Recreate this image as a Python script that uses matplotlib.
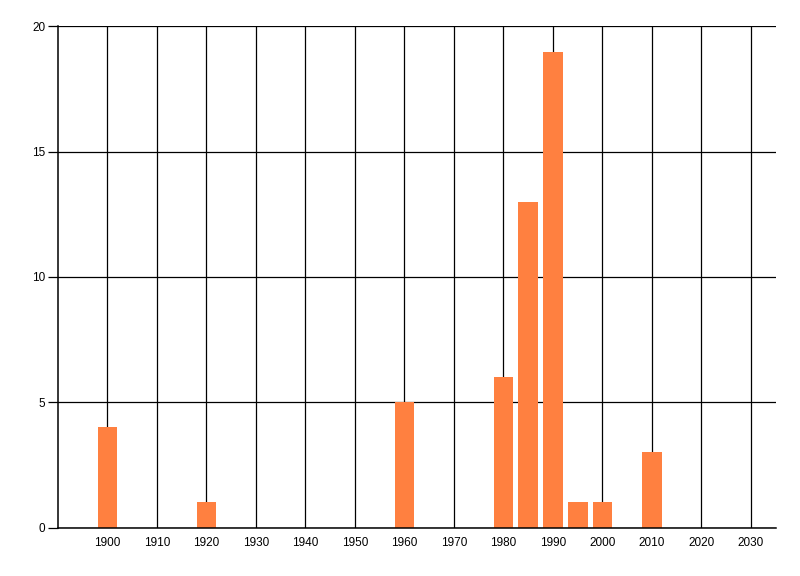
import matplotlib
matplotlib.use('Agg')
import matplotlib.pyplot as plt

# bar data
years = [1900, 1920, 1960, 1980, 1985, 1990, 1995, 2000, 2010]
counts = [4, 1, 5, 6, 13, 19, 1, 1, 3]
xticks = list(range(1900, 2031, 10))
yticks = [0, 5, 10, 15, 20]

plt.rcParams['font.family'] = ['Liberation Sans', 'DejaVu Sans']

fig = plt.figure(figsize=(8, 5.76), dpi=100)
ax = fig.add_axes([0.0725, 0.0842, 0.8971, 0.8698])

ax.bar(years, counts, width=4, color='#FF8040', zorder=3)

ax.set_xlim(1890, 2035)
ax.set_ylim(0, 20)
ax.set_xticks(xticks)
ax.set_yticks(yticks)
ax.grid(True, color='black', linewidth=0.9, zorder=1)
ax.set_axisbelow(True)

for s in ['top', 'right']:
    ax.spines[s].set_visible(False)
for s in ['left', 'bottom']:
    ax.spines[s].set_linewidth(1.1)
    ax.spines[s].set_zorder(4)

ax.tick_params(axis='x', length=0, pad=7, labelsize=8.5)
ax.tick_params(axis='y', length=7, width=0.9, pad=2, labelsize=8.5)

fig.savefig('out.png', dpi=100)
